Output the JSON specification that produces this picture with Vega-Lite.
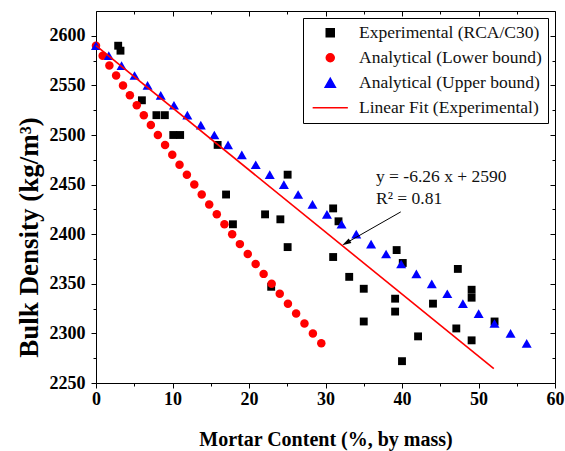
{
  "$schema": "https://vega.github.io/schema/vega-lite/v6.json",
  "width": 459,
  "height": 372,
  "autosize": {"type": "none"},
  "padding": {"left": 96, "top": 11, "right": 10, "bottom": 68},
  "background": "#ffffff",
  "config": {"view": {"stroke": null}, "font": "Liberation Serif"},
  "datasets": {
    "experimental": [
      {"x": 2.9, "y": 2590}, {"x": 3.2, "y": 2585}, {"x": 6.0, "y": 2535},
      {"x": 7.9, "y": 2520}, {"x": 9.0, "y": 2520}, {"x": 10.1, "y": 2500},
      {"x": 11.0, "y": 2500}, {"x": 15.9, "y": 2490}, {"x": 17.0, "y": 2440},
      {"x": 17.9, "y": 2410}, {"x": 22.1, "y": 2420}, {"x": 24.1, "y": 2415},
      {"x": 25.05, "y": 2460}, {"x": 25.05, "y": 2387}, {"x": 22.9, "y": 2347},
      {"x": 31.0, "y": 2426}, {"x": 31.7, "y": 2413}, {"x": 31.0, "y": 2377},
      {"x": 33.1, "y": 2357}, {"x": 35.0, "y": 2345}, {"x": 35.0, "y": 2312},
      {"x": 39.1, "y": 2335}, {"x": 39.1, "y": 2322}, {"x": 39.3, "y": 2384},
      {"x": 40.1, "y": 2371}, {"x": 40.0, "y": 2272}, {"x": 42.1, "y": 2297},
      {"x": 44.05, "y": 2330}, {"x": 47.3, "y": 2365}, {"x": 47.1, "y": 2305},
      {"x": 49.1, "y": 2344}, {"x": 49.1, "y": 2336}, {"x": 49.1, "y": 2293},
      {"x": 52.1, "y": 2312}
    ],
    "lower": [
      {"x": 0, "y": 2590}, {"x": 0.87, "y": 2580}, {"x": 1.75, "y": 2570},
      {"x": 2.63, "y": 2560}, {"x": 3.53, "y": 2550}, {"x": 4.43, "y": 2540},
      {"x": 5.33, "y": 2530}, {"x": 6.25, "y": 2520}, {"x": 7.17, "y": 2510},
      {"x": 8.09, "y": 2500}, {"x": 9.03, "y": 2490}, {"x": 9.97, "y": 2480},
      {"x": 10.92, "y": 2470}, {"x": 11.88, "y": 2460}, {"x": 12.85, "y": 2450},
      {"x": 13.82, "y": 2440}, {"x": 14.8, "y": 2430}, {"x": 15.79, "y": 2420},
      {"x": 16.79, "y": 2410}, {"x": 17.8, "y": 2400}, {"x": 18.81, "y": 2390},
      {"x": 19.84, "y": 2380}, {"x": 20.87, "y": 2370}, {"x": 21.91, "y": 2360},
      {"x": 22.96, "y": 2350}, {"x": 24.02, "y": 2340}, {"x": 25.09, "y": 2330},
      {"x": 26.16, "y": 2320}, {"x": 27.25, "y": 2310}, {"x": 28.35, "y": 2300},
      {"x": 29.45, "y": 2290}
    ],
    "upper": [
      {"x": 0, "y": 2590}, {"x": 1.67, "y": 2580}, {"x": 3.34, "y": 2570},
      {"x": 5.04, "y": 2560}, {"x": 6.74, "y": 2550}, {"x": 8.46, "y": 2540},
      {"x": 10.19, "y": 2530}, {"x": 11.94, "y": 2520}, {"x": 13.7, "y": 2510},
      {"x": 15.47, "y": 2500}, {"x": 17.26, "y": 2490}, {"x": 19.06, "y": 2480},
      {"x": 20.88, "y": 2470}, {"x": 22.71, "y": 2460}, {"x": 24.56, "y": 2450},
      {"x": 26.42, "y": 2440}, {"x": 28.3, "y": 2430}, {"x": 30.19, "y": 2420},
      {"x": 32.1, "y": 2410}, {"x": 34.02, "y": 2400}, {"x": 35.96, "y": 2390},
      {"x": 37.92, "y": 2380}, {"x": 39.89, "y": 2370}, {"x": 41.88, "y": 2360},
      {"x": 43.89, "y": 2350}, {"x": 45.92, "y": 2340}, {"x": 47.96, "y": 2330},
      {"x": 50.02, "y": 2320}, {"x": 52.09, "y": 2310}, {"x": 54.19, "y": 2300},
      {"x": 56.3, "y": 2290}
    ],
    "fit": [
      {"x": 0, "y": 2590}, {"x": 52, "y": 2264.48}
    ],
    "equation": [
      {"x": 36.6, "y": 2453, "label": "y = -6.26 x + 2590"},
      {"x": 36.6, "y": 2430.5, "label": "R² = 0.81"}
    ],
    "pointer": [
      {"x": 39.84, "y": 2422.5, "x2": 32.7, "y2": 2391.1}
    ],
    "pointer_head": [
      {"x": 32.7, "y": 2391.1}
    ]
  },
  "layer": [
    {
      "data": {"name": "experimental"},
      "mark": {"type": "point", "filled": true, "opacity": 1, "size": 62},
      "encoding": {
        "x": {
          "field": "x", "type": "quantitative",
          "scale": {"domain": [0, 60], "nice": false, "zero": false},
          "axis": {
            "orient": "bottom",
            "values": [0, 5, 10, 15, 20, 25, 30, 35, 40, 45, 50, 55, 60],
            "format": "d",
            "labelExpr": "datum.value % 10 === 0 ? datum.label : ''",
            "labelFlush": false, "labelOverlap": false,
            "labelFont": "Liberation Serif", "labelFontSize": 18, "labelFontWeight": "bold",
            "labelColor": "#000000", "labelPadding": 2,
            "tickSize": {"condition": {"test": "datum.value % 10 === 0", "value": 5}, "value": 3},
            "tickColor": "#000000", "domainColor": "#000000", "grid": false,
            "title": "Mortar Content (%, by mass)",
            "titleFont": "Liberation Serif", "titleFontSize": 20, "titleFontWeight": "bold",
            "titleColor": "#000000", "titleBaseline": "alphabetic", "titleY": 62
          }
        },
        "y": {
          "field": "y", "type": "quantitative",
          "scale": {"domain": [2250, 2625], "nice": false, "zero": false},
          "axis": {
            "orient": "left",
            "values": [2250, 2275, 2300, 2325, 2350, 2375, 2400, 2425, 2450, 2475, 2500, 2525, 2550, 2575, 2600],
            "format": "d",
            "labelExpr": "datum.value % 50 === 0 ? datum.label : ''",
            "labelFlush": false, "labelOverlap": false,
            "labelFont": "Liberation Serif", "labelFontSize": 18, "labelFontWeight": "bold",
            "labelColor": "#000000", "labelPadding": 6,
            "tickSize": {"condition": {"test": "datum.value % 50 === 0", "value": 5}, "value": 3},
            "tickColor": "#000000", "domainColor": "#000000", "grid": false,
            "title": "Bulk Density (kg/m³)",
            "titleFont": "Liberation Serif", "titleFontSize": 27, "titleFontWeight": "bold",
            "titleColor": "#000000", "titleBaseline": "alphabetic",
            "titleX": -59, "titleY": 226, "titleAngle": -90
          }
        },
        "color": {
          "datum": "Experimental (RCA/C30)", "type": "nominal",
          "scale": {
            "domain": ["Experimental (RCA/C30)", "Analytical (Lower bound)", "Analytical (Upper bound)", "Linear Fit (Experimental)"],
            "range": ["#000000", "#ff0000", "#0000ff", "#ff0000"]
          },
          "legend": {
            "title": null, "orient": "top-right", "offset": 7, "padding": 6,
            "strokeColor": "#000000", "fillColor": "#ffffff",
            "labelFont": "Liberation Serif", "labelFontSize": 17.5, "labelColor": "#111111",
            "labelLimit": 300, "labelOffset": 20, "symbolOffset": 12.5, "rowPadding": 6,
            "symbolSize": 64,
            "encoding": {
              "symbols": {
                "update": {
                  "stroke": {"value": {"expr": "datum.value === 'Linear Fit (Experimental)' ? '#ff0000' : 'transparent'"}},
                  "strokeWidth": {"value": 1.8},
                  "opacity": {"value": 1}
                }
              }
            }
          }
        },
        "shape": {
          "datum": "Experimental (RCA/C30)", "type": "nominal",
          "scale": {
            "domain": ["Experimental (RCA/C30)", "Analytical (Lower bound)", "Analytical (Upper bound)", "Linear Fit (Experimental)"],
            "range": ["square", "circle", "M0,-1.1L-1.27,1.1L1.27,1.1Z", "M-4.4,0L4.4,0"]
          },
          "legend": {
            "title": null, "orient": "top-right", "offset": 7, "padding": 6,
            "strokeColor": "#000000", "fillColor": "#ffffff",
            "labelFont": "Liberation Serif", "labelFontSize": 17.5, "labelColor": "#111111",
            "labelLimit": 300, "labelOffset": 20, "symbolOffset": 12.5, "rowPadding": 6,
            "symbolSize": 64,
            "encoding": {
              "symbols": {
                "update": {
                  "stroke": {"value": {"expr": "datum.value === 'Linear Fit (Experimental)' ? '#ff0000' : 'transparent'"}},
                  "strokeWidth": {"value": 1.8},
                  "opacity": {"value": 1}
                }
              }
            }
          }
        }
      }
    },
    {
      "data": {"name": "lower"},
      "mark": {"type": "point", "filled": true, "opacity": 1, "size": 72},
      "encoding": {
        "x": {"field": "x", "type": "quantitative", "axis": null},
        "y": {"field": "y", "type": "quantitative", "axis": null},
        "color": {"datum": "Analytical (Lower bound)", "type": "nominal", "legend": null},
        "shape": {"datum": "Analytical (Lower bound)", "type": "nominal", "legend": null}
      }
    },
    {
      "data": {"name": "upper"},
      "mark": {"type": "point", "filled": true, "opacity": 1, "size": 62},
      "encoding": {
        "x": {"field": "x", "type": "quantitative", "axis": null},
        "y": {"field": "y", "type": "quantitative", "axis": null},
        "color": {"datum": "Analytical (Upper bound)", "type": "nominal", "legend": null},
        "shape": {"datum": "Analytical (Upper bound)", "type": "nominal", "legend": null}
      }
    },
    {
      "data": {"name": "fit"},
      "mark": {"type": "line", "strokeWidth": 1.6},
      "encoding": {
        "x": {
          "field": "x", "type": "quantitative",
          "axis": {
            "orient": "top", "labels": false, "title": null, "grid": false,
            "values": [0, 5, 10, 15, 20, 25, 30, 35, 40, 45, 50, 55, 60],
            "tickSize": {"condition": {"test": "datum.value % 10 === 0", "value": -5}, "value": -3},
            "tickColor": "#000000", "domainColor": "#000000"
          }
        },
        "y": {
          "field": "y", "type": "quantitative",
          "axis": {
            "orient": "right", "labels": false, "title": null, "grid": false,
            "values": [2250, 2275, 2300, 2325, 2350, 2375, 2400, 2425, 2450, 2475, 2500, 2525, 2550, 2575, 2600],
            "tickSize": {"condition": {"test": "datum.value % 50 === 0", "value": -5}, "value": -3},
            "tickColor": "#000000", "domainColor": "#000000"
          }
        },
        "color": {"datum": "Linear Fit (Experimental)", "type": "nominal", "legend": null}
      }
    },
    {
      "data": {"name": "pointer"},
      "mark": {"type": "rule", "color": "#000000", "strokeWidth": 1},
      "encoding": {
        "x": {"field": "x", "type": "quantitative", "axis": null},
        "y": {"field": "y", "type": "quantitative", "axis": null},
        "x2": {"field": "x2"},
        "y2": {"field": "y2"}
      }
    },
    {
      "data": {"name": "pointer_head"},
      "mark": {"type": "point", "shape": "M0,-1L-0.6,1L0.6,1Z", "filled": true, "opacity": 1, "color": "#000000", "size": 81, "angle": 240},
      "encoding": {
        "x": {"field": "x", "type": "quantitative", "axis": null},
        "y": {"field": "y", "type": "quantitative", "axis": null}
      }
    },
    {
      "data": {"name": "equation"},
      "mark": {"type": "text", "align": "left", "baseline": "alphabetic", "font": "Liberation Serif", "fontSize": 17.5, "color": "#111111"},
      "encoding": {
        "x": {"field": "x", "type": "quantitative", "axis": null},
        "y": {"field": "y", "type": "quantitative", "axis": null},
        "text": {"field": "label"}
      }
    }
  ],
  "resolve": {"axis": {"x": "independent", "y": "independent"}}
}
